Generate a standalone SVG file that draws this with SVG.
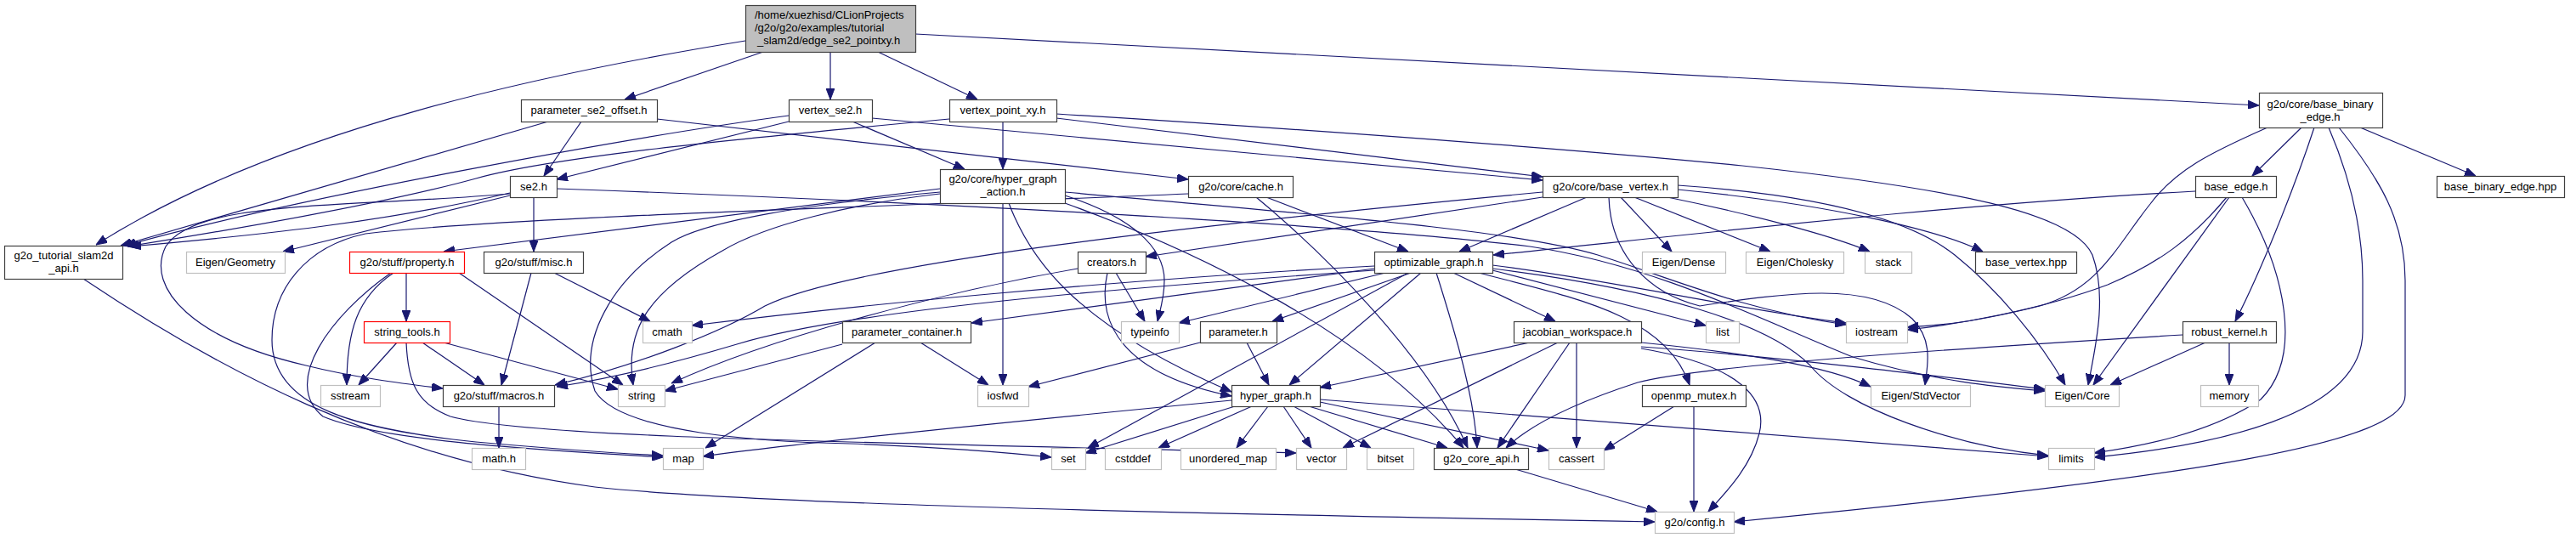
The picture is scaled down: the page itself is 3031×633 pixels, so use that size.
<svg xmlns="http://www.w3.org/2000/svg" width="3031" height="633" viewBox="0 0 3031 633">
<style>
rect{stroke-width:1.2}
.n{fill:#fff;stroke:#404040}
.g{fill:#fff;stroke:#bfbfbf}
.r{fill:#fff;stroke:#ff0000}
.root{fill:#bfbfbf;stroke:#404040}
text{font-family:"Liberation Sans",Arial,sans-serif;font-size:13px;fill:#000;text-anchor:middle}
.l{text-anchor:start}
#edges path{fill:none;stroke:#191970;stroke-width:1.2;marker-end:url(#ah)}
</style>
<defs>
<marker id="ah" markerUnits="userSpaceOnUse" markerWidth="13" markerHeight="10" viewBox="0 0 13 10" refX="13" refY="5" orient="auto"><path d="M0,0 L13,5 L0,10 z" fill="#191970" stroke="#191970" stroke-width="1"/></marker>
</defs>
<rect width="3031" height="633" fill="#fff"/>
<g id="edges">
<path d="M877,48 C650,85 330,150 113,288"/>
<path d="M898,61 L735,117"/>
<path d="M977,61 L977,117"/>
<path d="M1033,61 L1150,117"/>
<path d="M1077,40 L2658,124"/>
<path d="M684,143 L640,207"/>
<path d="M645,143 L142,289"/>
<path d="M773,140 L1398,211"/>
<path d="M928,143 L655,211"/>
<path d="M928,136 C750,160 350,232 147,289"/>
<path d="M1003,143 L1135,199"/>
<path d="M1026,139 L1815,212"/>
<path d="M1180,143 L1180,199"/>
<path d="M1117,140 C850,165 650,185 560,210 C480,232 350,258 150,290"/>
<path d="M1243,139 L1815,208"/>
<path d="M1243,134 C1600,156 1900,180 2050,195 C2300,222 2440,250 2462,300 C2480,350 2465,410 2457,453"/>
<path d="M600,227 C450,262 300,277 153,290"/>
<path d="M600,230 L333,296"/>
<path d="M628,232 L628,296"/>
<path d="M600,228 C400,245 230,235 195,290 C170,340 230,400 360,430 C420,445 480,452 521,457"/>
<path d="M655,222 C1100,238 1600,265 1800,290 C1950,312 2080,380 2180,420 C2280,450 2360,456 2406,460"/>
<path d="M625,321 L590,453"/>
<path d="M652,321 L765,378"/>
<path d="M587,478 L587,527"/>
<path d="M463,321 C420,350 408,390 408,453"/>
<path d="M460,321 C390,370 330,450 380,490 C450,520 650,530 780,538"/>
<path d="M478,321 L478,378"/>
<path d="M540,321 L733,453"/>
<path d="M467,403 L422,453"/>
<path d="M497,403 L570,453"/>
<path d="M522,403 L727,458"/>
<path d="M478,403 C480,450 490,475 530,490 C620,515 1000,520 1525,533"/>
<path d="M1106,222 L522,296"/>
<path d="M1106,228 C1000,240 900,265 850,295 C760,345 735,390 745,453"/>
<path d="M1106,226 C950,240 830,260 790,285 C720,330 680,400 700,460 C730,510 900,520 1000,522 C1100,526 1180,532 1237,538"/>
<path d="M1180,239 L1180,453"/>
<path d="M1187,239 C1210,300 1260,380 1449,461"/>
<path d="M1253,230 C1330,255 1370,290 1370,330 C1370,350 1365,365 1362,378"/>
<path d="M1253,226 C1550,253 1780,270 1880,300 C1960,325 2050,365 2172,382"/>
<path d="M1253,239 C1380,285 1600,380 1722,527"/>
<path d="M1490,232 L1657,296"/>
<path d="M1478,232 C1560,300 1680,420 1727,527"/>
<path d="M1398,228 C1000,245 600,255 430,275 C360,290 320,340 320,400 C320,480 420,505 560,520 C650,528 720,533 780,536"/>
<path d="M1867,232 L1717,296"/>
<path d="M1815,232 L1348,302"/>
<path d="M1815,226 C1400,265 1000,310 900,360 C850,390 750,430 653,453"/>
<path d="M1907,232 L1967,296"/>
<path d="M1923,232 L2083,296"/>
<path d="M1962,232 C2050,250 2150,275 2200,296"/>
<path d="M1974,223 C2150,240 2280,270 2333,296"/>
<path d="M1974,218 C2150,230 2250,260 2300,300 C2350,340 2400,400 2430,453"/>
<path d="M1893,232 C1895,300 1940,345 2000,360 C2100,345 2200,330 2250,375 C2275,400 2268,430 2265,453"/>
<path d="M1617,313 C1300,330 1000,360 814,383"/>
<path d="M1617,316 L1143,380"/>
<path d="M1617,318 C1300,340 1000,365 867,405 C800,425 720,445 655,455"/>
<path d="M1630,321 L1387,380"/>
<path d="M1660,321 L1497,378"/>
<path d="M1672,321 L1517,453"/>
<path d="M1657,321 L1280,527"/>
<path d="M1690,321 C1715,400 1735,470 1738,527"/>
<path d="M1710,321 L1830,378"/>
<path d="M1740,321 C1850,350 1960,370 1988,453"/>
<path d="M1756,318 L2007,383"/>
<path d="M1756,312 C1900,330 2050,365 2172,380"/>
<path d="M1756,316 C1950,340 2080,380 2130,430 C2170,480 2300,525 2410,536"/>
<path d="M1030,403 L830,527"/>
<path d="M1083,403 L1163,453"/>
<path d="M991,405 L782,460"/>
<path d="M1467,403 L1493,453"/>
<path d="M1412,403 L1210,455"/>
<path d="M1303,321 C1290,380 1320,440 1449,466"/>
<path d="M1313,321 L1347,378"/>
<path d="M1268,316 C1100,345 900,400 790,451"/>
<path d="M1800,403 L1553,456"/>
<path d="M1833,403 L1580,527"/>
<path d="M1847,403 L1762,527"/>
<path d="M1855,403 L1855,527"/>
<path d="M1931,403 C2050,415 2150,430 2201,455"/>
<path d="M1931,408 C2100,420 2300,445 2406,458"/>
<path d="M1931,410 C2050,430 2080,470 2070,510 C2060,550 2030,580 2010,602"/>
<path d="M1970,478 L1887,530"/>
<path d="M1993,478 L1993,602"/>
<path d="M1449,471 C1200,495 950,520 827,537"/>
<path d="M1453,478 L1277,533"/>
<path d="M1473,478 L1363,527"/>
<path d="M1492,478 L1455,527"/>
<path d="M1510,478 L1543,527"/>
<path d="M1522,478 L1613,527"/>
<path d="M1540,478 L1703,527"/>
<path d="M1553,473 L1822,530"/>
<path d="M1553,470 L2410,537"/>
<path d="M1783,552 L1950,602"/>
<path d="M98,328 C250,430 450,540 700,573 C900,595 1500,606 1947,614"/>
<path d="M2623,403 L2623,453"/>
<path d="M2595,403 L2483,453"/>
<path d="M2568,394 C2300,410 2000,430 1927,450 C1850,475 1800,500 1772,527"/>
<path d="M2583,225 C2300,240 2000,275 1757,300"/>
<path d="M2620,232 C2580,280 2540,310 2480,335 C2400,365 2300,382 2244,388"/>
<path d="M2623,232 L2463,453"/>
<path d="M2638,232 C2690,320 2710,420 2660,470 C2600,510 2520,525 2464,533"/>
<path d="M2708,150 L2650,207"/>
<path d="M2777,150 L2913,207"/>
<path d="M2723,150 C2700,220 2660,320 2630,378"/>
<path d="M2668,150 C2600,180 2560,200 2530,240 C2490,290 2470,340 2400,360 C2320,380 2280,383 2244,385"/>
<path d="M2740,150 C2770,220 2780,280 2780,330 L2780,390 C2780,490 2600,525 2464,538"/>
<path d="M2752,150 C2800,210 2830,260 2830,330 L2830,465 C2830,520 2600,560 2040,614"/>
</g>
<g id="n_root"><rect class="root" x="877.5" y="6.5" width="200" height="55"/><text class="l" x="888" y="22">/home/xuezhisd/CLionProjects</text><text class="l" x="888" y="37">/g2o/g2o/examples/tutorial</text><text class="l" x="891" y="51.5">_slam2d/edge_se2_pointxy.h</text></g>
<g id="n_param_se2_offset"><rect class="n" x="613.5" y="117.5" width="160" height="26"/><text x="693" y="134">parameter_se2_offset.h</text></g>
<g id="n_vertex_se2"><rect class="n" x="928.5" y="117.5" width="98" height="26"/><text x="977" y="134">vertex_se2.h</text></g>
<g id="n_vertex_point_xy"><rect class="n" x="1117.5" y="117.5" width="126" height="26"/><text x="1180" y="134">vertex_point_xy.h</text></g>
<g id="n_base_binary_edge"><rect class="n" x="2658.5" y="109.5" width="145" height="41"/><text x="2730" y="126.5">g2o/core/base_binary</text><text x="2730" y="141.5">_edge.h</text></g>
<g id="n_se2"><rect class="n" x="600.5" y="207.5" width="55" height="25"/><text x="628" y="224">se2.h</text></g>
<g id="n_hga"><rect class="n" x="1106.5" y="199.5" width="147" height="40"/><text x="1180" y="215">g2o/core/hyper_graph</text><text x="1180" y="230">_action.h</text></g>
<g id="n_cache"><rect class="n" x="1398.5" y="207.5" width="123" height="25"/><text x="1460" y="224">g2o/core/cache.h</text></g>
<g id="n_base_vertex"><rect class="n" x="1815.5" y="207.5" width="159" height="25"/><text x="1895" y="224">g2o/core/base_vertex.h</text></g>
<g id="n_base_edge"><rect class="n" x="2583.5" y="207.5" width="95" height="25"/><text x="2631" y="224">base_edge.h</text></g>
<g id="n_base_binary_edge_hpp"><rect class="n" x="2867.5" y="207.5" width="150" height="25"/><text x="2942" y="224">base_binary_edge.hpp</text></g>
<g id="n_api"><rect class="n" x="5.5" y="289.5" width="139" height="39"/><text x="75" y="305">g2o_tutorial_slam2d</text><text x="75" y="320">_api.h</text></g>
<g id="n_eigen_geometry"><rect class="g" x="219.5" y="296.5" width="116" height="25"/><text x="277" y="313">Eigen/Geometry</text></g>
<g id="n_property"><rect class="r" x="411.5" y="296.5" width="135" height="25"/><text x="479" y="313">g2o/stuff/property.h</text></g>
<g id="n_misc"><rect class="n" x="569.5" y="296.5" width="117" height="25"/><text x="628" y="313">g2o/stuff/misc.h</text></g>
<g id="n_creators"><rect class="n" x="1268.5" y="296.5" width="80" height="25"/><text x="1308" y="313">creators.h</text></g>
<g id="n_optimizable_graph"><rect class="n" x="1617.5" y="296.5" width="139" height="25"/><text x="1687" y="313">optimizable_graph.h</text></g>
<g id="n_eigen_dense"><rect class="g" x="1932.5" y="296.5" width="98" height="25"/><text x="1981" y="313">Eigen/Dense</text></g>
<g id="n_eigen_cholesky"><rect class="g" x="2054.5" y="296.5" width="115" height="25"/><text x="2112" y="313">Eigen/Cholesky</text></g>
<g id="n_stack"><rect class="g" x="2194.5" y="296.5" width="55" height="25"/><text x="2222" y="313">stack</text></g>
<g id="n_base_vertex_hpp"><rect class="n" x="2324.5" y="296.5" width="119" height="25"/><text x="2384" y="313">base_vertex.hpp</text></g>
<g id="n_string_tools"><rect class="r" x="428.5" y="378.5" width="101" height="25"/><text x="479" y="395">string_tools.h</text></g>
<g id="n_cmath"><rect class="g" x="756.5" y="378.5" width="58" height="25"/><text x="785" y="395">cmath</text></g>
<g id="n_parameter_container"><rect class="n" x="991.5" y="378.5" width="151" height="25"/><text x="1067" y="395">parameter_container.h</text></g>
<g id="n_typeinfo"><rect class="g" x="1319.5" y="378.5" width="68" height="25"/><text x="1353" y="395">typeinfo</text></g>
<g id="n_parameter"><rect class="n" x="1412.5" y="378.5" width="90" height="25"/><text x="1457" y="395">parameter.h</text></g>
<g id="n_jacobian_workspace"><rect class="n" x="1781.5" y="378.5" width="150" height="25"/><text x="1856" y="395">jacobian_workspace.h</text></g>
<g id="n_list"><rect class="g" x="2007.5" y="378.5" width="39" height="25"/><text x="2027" y="395">list</text></g>
<g id="n_iostream"><rect class="g" x="2172.5" y="378.5" width="72" height="25"/><text x="2208" y="395">iostream</text></g>
<g id="n_robust_kernel"><rect class="n" x="2568.5" y="378.5" width="110" height="25"/><text x="2623" y="395">robust_kernel.h</text></g>
<g id="n_sstream"><rect class="g" x="377.5" y="453.5" width="70" height="25"/><text x="412" y="470">sstream</text></g>
<g id="n_macros"><rect class="n" x="521.5" y="453.5" width="131" height="25"/><text x="587" y="470">g2o/stuff/macros.h</text></g>
<g id="n_string"><rect class="g" x="727.5" y="453.5" width="55" height="25"/><text x="755" y="470">string</text></g>
<g id="n_iosfwd"><rect class="g" x="1150.5" y="453.5" width="60" height="25"/><text x="1180" y="470">iosfwd</text></g>
<g id="n_hyper_graph"><rect class="n" x="1449.5" y="453.5" width="104" height="25"/><text x="1501" y="470">hyper_graph.h</text></g>
<g id="n_openmp_mutex"><rect class="n" x="1932.5" y="453.5" width="122" height="25"/><text x="1993" y="470">openmp_mutex.h</text></g>
<g id="n_eigen_stdvector"><rect class="g" x="2201.5" y="453.5" width="117" height="25"/><text x="2260" y="470">Eigen/StdVector</text></g>
<g id="n_eigen_core"><rect class="g" x="2406.5" y="453.5" width="87" height="25"/><text x="2450" y="470">Eigen/Core</text></g>
<g id="n_memory"><rect class="g" x="2589.5" y="453.5" width="68" height="25"/><text x="2623" y="470">memory</text></g>
<g id="n_math"><rect class="g" x="555.5" y="527.5" width="63" height="25"/><text x="587" y="544">math.h</text></g>
<g id="n_map"><rect class="g" x="780.5" y="527.5" width="47" height="25"/><text x="804" y="544">map</text></g>
<g id="n_set"><rect class="g" x="1237.5" y="527.5" width="40" height="25"/><text x="1257" y="544">set</text></g>
<g id="n_cstddef"><rect class="g" x="1300.5" y="527.5" width="66" height="25"/><text x="1333" y="544">cstddef</text></g>
<g id="n_unordered_map"><rect class="g" x="1389.5" y="527.5" width="112" height="25"/><text x="1445" y="544">unordered_map</text></g>
<g id="n_vector"><rect class="g" x="1525.5" y="527.5" width="59" height="25"/><text x="1555" y="544">vector</text></g>
<g id="n_bitset"><rect class="g" x="1608.5" y="527.5" width="55" height="25"/><text x="1636" y="544">bitset</text></g>
<g id="n_g2o_core_api"><rect class="n" x="1687.5" y="527.5" width="111" height="25"/><text x="1743" y="544">g2o_core_api.h</text></g>
<g id="n_cassert"><rect class="g" x="1822.5" y="527.5" width="65" height="25"/><text x="1855" y="544">cassert</text></g>
<g id="n_limits"><rect class="g" x="2410.5" y="527.5" width="54" height="25"/><text x="2437" y="544">limits</text></g>
<g id="n_config"><rect class="g" x="1947.5" y="602.5" width="93" height="25"/><text x="1994" y="619">g2o/config.h</text></g>
</svg>
